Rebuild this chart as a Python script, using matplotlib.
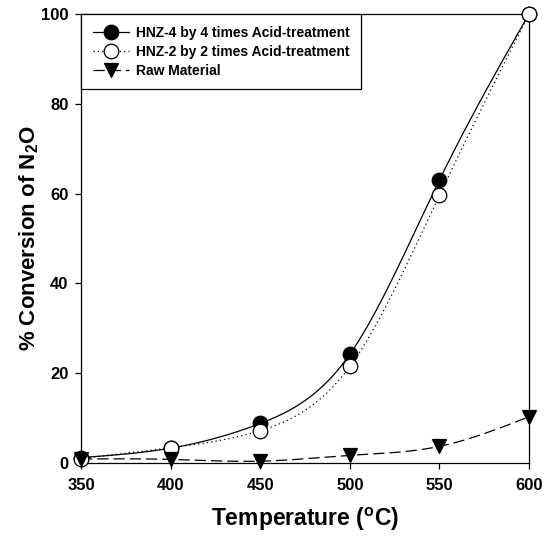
import numpy as np
import matplotlib
matplotlib.use('Agg')
import matplotlib.pyplot as plt

plt.rcParams['font.family'] = ['Liberation Sans', 'DejaVu Sans']
plt.rcParams['font.weight'] = 'bold'
plt.rcParams['mathtext.fontset'] = 'custom'
plt.rcParams['mathtext.rm'] = 'Liberation Sans:bold'
plt.rcParams['mathtext.it'] = 'Liberation Sans:bold'
plt.rcParams['mathtext.bf'] = 'Liberation Sans:bold'

temps = [350, 400, 450, 500, 550, 600]
hnz4 = [1.2, 3.3, 8.8, 24.2, 63.0, 100.0]
hnz2 = [1.0, 3.4, 7.2, 21.5, 59.6, 100.0]
raw = [0.9, 0.8, 0.4, 1.7, 3.7, 10.3]
labels = ['HNZ-4 by 4 times Acid-treatment', 'HNZ-2 by 2 times Acid-treatment', 'Raw Material']


def spline(x, y, n=200):
    # natural cubic spline through the points, only for drawing the curve
    x = np.asarray(x, float)
    y = np.asarray(y, float)
    k = len(x)
    h = np.diff(x)
    A = np.zeros((k, k))
    b = np.zeros(k)
    A[0, 0] = A[-1, -1] = 1
    for i in range(1, k - 1):
        A[i, i - 1] = h[i - 1]
        A[i, i] = 2 * (h[i - 1] + h[i])
        A[i, i + 1] = h[i]
        b[i] = 6 * ((y[i + 1] - y[i]) / h[i] - (y[i] - y[i - 1]) / h[i - 1])
    m = np.linalg.solve(A, b)
    xs = np.linspace(x[0], x[-1], n)
    idx = np.clip(np.searchsorted(x, xs) - 1, 0, k - 2)
    x0, x1 = x[idx], x[idx + 1]
    hh = x1 - x0
    t0 = x1 - xs
    t1 = xs - x0
    ys = (m[idx] * t0 ** 3 + m[idx + 1] * t1 ** 3) / (6 * hh) \
        + (y[idx] / hh - m[idx] * hh / 6) * t0 \
        + (y[idx + 1] / hh - m[idx + 1] * hh / 6) * t1
    return xs, ys


fig = plt.figure(figsize=(5.49, 5.36), dpi=100)
ax = fig.add_axes([0.1475, 0.1362, 0.8161, 0.8377])

styles = [
    (hnz4, '-', 'o', 'black'),
    (hnz2, (0, (1, 2.5)), 'o', 'white'),
    (raw, (0, (9, 4)), 'v', 'black'),
]
for i, (vals, ls, mk, fc) in enumerate(styles):
    xs, ys = spline(temps, vals)
    ax.plot(xs, ys, color='black', linestyle=ls, linewidth=0.9, zorder=2 + i, clip_on=False)
    ax.plot(temps, vals, linestyle='none', marker=mk, markersize=10.5,
            markerfacecolor=fc, markeredgecolor='black', markeredgewidth=0.9,
            zorder=5 + i, clip_on=False)

# legend handles
handles = []
for vals, ls, mk, fc in styles:
    h, = ax.plot([], [], color='black', linestyle=ls, linewidth=0.9, marker=mk,
                 markersize=10.5, markerfacecolor=fc, markeredgecolor='black', markeredgewidth=0.9)
    handles.append(h)
leg = ax.legend(handles, labels, loc='upper left', bbox_to_anchor=(0, 1), borderaxespad=0,
                fancybox=False, edgecolor='black', framealpha=1, fontsize=10,
                handlelength=2.6, handletextpad=0.5, labelspacing=0.35, borderpad=0.85)
leg.get_frame().set_linewidth(0.9)

ax.set_xlim(350, 600)
ax.set_ylim(0, 100)
ax.set_xticks(temps)
ax.set_yticks([0, 20, 40, 60, 80, 100])
ax.tick_params(direction='out', length=4, width=0.9, labelsize=12, pad=5)
ax.tick_params(axis='x', pad=7)
for s in ax.spines.values():
    s.set_linewidth(0.9)

ax.set_xlabel('Temperature ($^{o}$C)', fontsize=16.5, fontweight='bold', labelpad=9)
ax.set_ylabel('% Conversion of N$_{2}$O', fontsize=16, fontweight='bold', labelpad=0)

fig.savefig('out.png', dpi=100)
